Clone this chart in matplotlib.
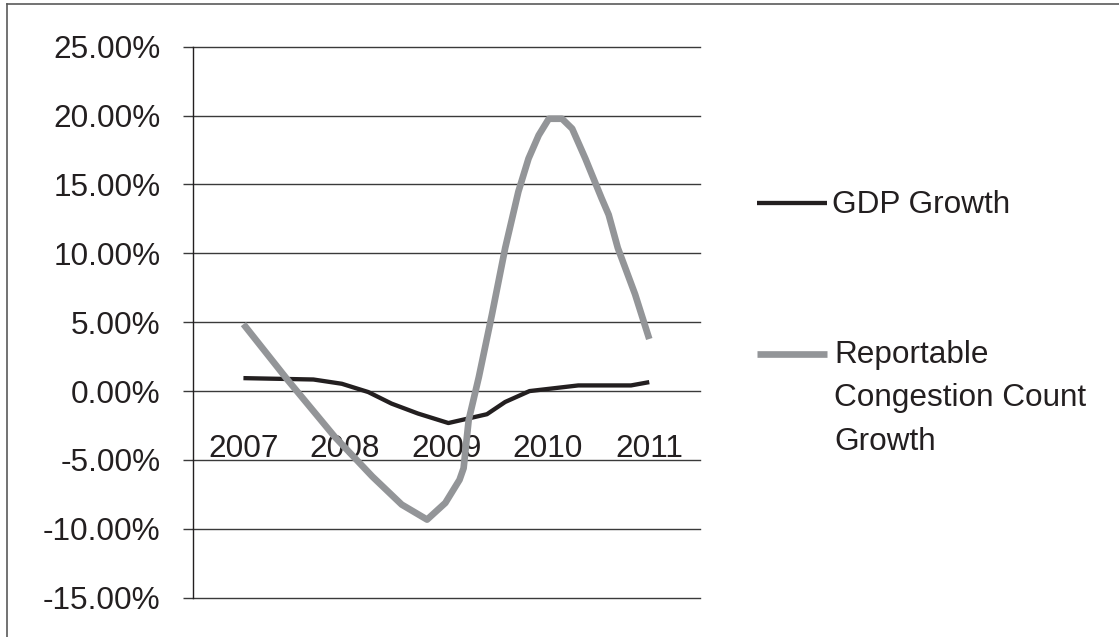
import matplotlib.pyplot as plt
from matplotlib.lines import Line2D

# category axis: 2007..2011 at positions 0..4
years = ["2007", "2008", "2009", "2010", "2011"]

# GDP growth (%)
gdp_x = [0.0, 0.69, 0.97, 1.23, 1.46, 1.72, 2.02, 2.40, 2.58, 2.82, 3.30, 3.82, 4.0]
gdp_y = [0.94, 0.84, 0.53, -0.07, -0.91, -1.63, -2.32, -1.68, -0.79, 0.0, 0.41, 0.41, 0.65]

# Reportable congestion count growth (%)
cong_x = [0.0, 0.44, 0.90, 1.27, 1.56, 1.81, 1.99, 2.13, 2.17, 2.22, 2.32, 2.45,
          2.58, 2.71, 2.81, 2.91, 3.01, 3.14, 3.24, 3.37, 3.53, 3.60, 3.69, 3.86, 4.0]
cong_y = [4.86, 0.77, -3.32, -6.20, -8.24, -9.33, -8.12, -6.44, -5.60, -2.11, 1.01, 5.58,
          10.39, 14.48, 16.88, 18.57, 19.77, 19.77, 19.05, 16.88, 14.0, 12.8, 10.39, 7.03, 3.78]

yticks = [-15, -10, -5, 0, 5, 10, 15, 20, 25]

black = "#231f20"
grey = "#939598"
fs = 22.7
lw_gdp = 3.1
lw_cong = 4.8

plt.rcParams.update({"font.family": "Liberation Sans", "text.color": black})

W, H = 1119, 637
fig = plt.figure(figsize=(W / 100, H / 100), dpi=100)
ax = fig.add_axes([192.7 / W, 1 - 597.7 / H, (700 - 192.7) / W, (597.7 - 46.7) / H])

ax.plot(gdp_x, gdp_y, color=black, lw=lw_gdp, solid_capstyle="butt", zorder=3)
ax.plot(cong_x, cong_y, color=grey, lw=lw_cong, solid_capstyle="butt", zorder=3)

ax.set_xlim(-0.5, 4.5)
ax.set_ylim(-15, 25)
ax.set_yticks(yticks)
ax.set_yticklabels([f"{v:.2f}%" for v in yticks])
ax.set_xticks(range(len(years)))
ax.set_xticklabels(years)

ax.yaxis.grid(True, color="#3a3a3a", lw=1.0)
for gl in ax.get_ygridlines():
    gl.set_clip_on(False)
ax.set_axisbelow(True)

for s in ["top", "right"]:
    ax.spines[s].set_visible(False)
ax.spines["left"].set_color(black)
ax.spines["left"].set_linewidth(1.0)
ax.spines["bottom"].set_position(("data", 0))
ax.spines["bottom"].set_color("none")

ax.tick_params(axis="y", length=7.2, width=1.0, color="#3a3a3a", pad=16,
               labelsize=fs, labelcolor=black)
ax.tick_params(axis="x", length=0, pad=31, labelsize=fs, labelcolor=black)

# legend drawn by hand to match the original placement
def px(x, y):
    return x / W, 1 - y / H

fig.add_artist(Line2D(*zip(px(756.7, 203.3), px(826.7, 203.3)), color=black, lw=lw_gdp,
                      solid_capstyle="butt"))
fig.text(*px(831.7, 205), "GDP Growth", fontsize=fs, va="center", ha="left")
fig.add_artist(Line2D(*zip(px(756.7, 354.3), px(826.7, 354.3)), color=grey, lw=lw_cong,
                      solid_capstyle="butt"))
fig.text(*px(834, 340), "Reportable\nCongestion Count\nGrowth", fontsize=fs,
         va="top", ha="left", linespacing=1.58)

# outer frame (top and left edges only)
fig.add_artist(Line2D(*zip(px(6.7, 4), px(W, 4)), color="#5a5a5a", lw=1.2))
fig.add_artist(Line2D(*zip(px(6.7, 4), px(6.7, H)), color="#5a5a5a", lw=1.2))

fig.savefig("out.png", dpi=100)
